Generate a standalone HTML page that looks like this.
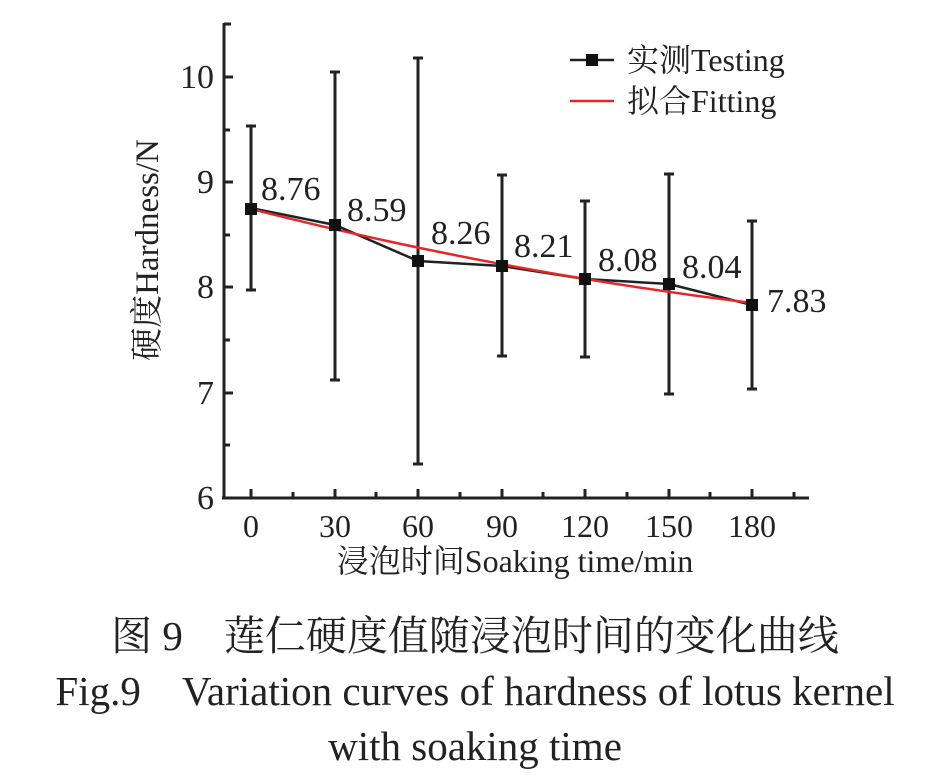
<!DOCTYPE html>
<html><head><meta charset="utf-8"><style>
body{margin:0;background:#fff;}
svg text{font-family:"Liberation Serif","Noto Serif CJK SC",serif;fill:#222;}
</style></head><body>
<svg width="934" height="775" viewBox="0 0 934 775" xmlns="http://www.w3.org/2000/svg">
<g stroke="#222" stroke-width="3" fill="none">
<line x1="224" y1="23" x2="224" y2="499"/>
<line x1="222" y1="498" x2="809" y2="498"/>
<line x1="224" y1="24" x2="231" y2="24"/>
<line x1="224" y1="77" x2="233" y2="77"/>
<line x1="224" y1="130" x2="230" y2="130"/>
<line x1="224" y1="182" x2="233" y2="182"/>
<line x1="224" y1="235" x2="230" y2="235"/>
<line x1="224" y1="287" x2="233" y2="287"/>
<line x1="224" y1="340" x2="230" y2="340"/>
<line x1="224" y1="393" x2="233" y2="393"/>
<line x1="224" y1="445" x2="230" y2="445"/>
<line x1="251" y1="498" x2="251" y2="489"/>
<line x1="293" y1="498" x2="293" y2="492"/>
<line x1="335" y1="498" x2="335" y2="489"/>
<line x1="376" y1="498" x2="376" y2="492"/>
<line x1="418" y1="498" x2="418" y2="489"/>
<line x1="460" y1="498" x2="460" y2="492"/>
<line x1="502" y1="498" x2="502" y2="489"/>
<line x1="543" y1="498" x2="543" y2="492"/>
<line x1="585" y1="498" x2="585" y2="489"/>
<line x1="627" y1="498" x2="627" y2="492"/>
<line x1="669" y1="498" x2="669" y2="489"/>
<line x1="710" y1="498" x2="710" y2="492"/>
<line x1="752" y1="498" x2="752" y2="489"/>
<line x1="794" y1="498" x2="794" y2="492"/>
<path d="M251 126V290M246 126H256M246 290H256"/>
<path d="M335 72V380M330 72H340M330 380H340"/>
<path d="M418 58V464M413 58H423M413 464H423"/>
<path d="M502 175V356M497 175H507M497 356H507"/>
<path d="M585 201V357M580 201H590M580 357H590"/>
<path d="M669 174V394M664 174H674M664 394H674"/>
<path d="M752 221V389M747 221H757M747 389H757"/>
</g>
<polyline points="251,208 335,225 418,261 502,266 585,279 669,284 752,305" stroke="#222" stroke-width="2.5" fill="none"/>
<path d="M251,209 Q500,272 752,303" stroke="#e8262a" stroke-width="2.5" fill="none"/>
<g fill="#111">
<rect x="245" y="203" width="12" height="12"/><rect x="329" y="219" width="12" height="12"/>
<rect x="412" y="255" width="12" height="12"/><rect x="496" y="260" width="12" height="12"/>
<rect x="579" y="273" width="12" height="12"/><rect x="663" y="278" width="12" height="12"/>
<rect x="746" y="299" width="12" height="12"/>
</g>
<g font-size="34">
<text x="261" y="200">8.76</text><text x="347" y="221">8.59</text>
<text x="431" y="244">8.26</text><text x="514" y="257">8.21</text>
<text x="598" y="271">8.08</text><text x="682" y="278">8.04</text>
<text x="767" y="312">7.83</text>
</g>
<g font-size="34" text-anchor="end">
<text x="214" y="88">10</text><text x="214" y="193">9</text><text x="214" y="298">8</text>
<text x="214" y="404">7</text><text x="214" y="509">6</text>
</g>
<g font-size="32" text-anchor="middle">
<text x="251" y="537">0</text><text x="335" y="537">30</text><text x="418" y="537">60</text>
<text x="502" y="537">90</text><text x="585" y="537">120</text><text x="669" y="537">150</text>
<text x="752" y="537">180</text>
<text x="515" y="572">浸泡时间Soaking time/min</text>
<text transform="translate(158,250) rotate(-90)" font-size="33">硬度Hardness/N</text>
</g>
<line x1="570" y1="60" x2="614" y2="60" stroke="#222" stroke-width="2.5"/>
<rect x="586" y="54" width="12" height="12" fill="#111"/>
<text x="627" y="71" font-size="32">实测Testing</text>
<line x1="570" y1="101" x2="614" y2="101" stroke="#e8262a" stroke-width="2.5"/>
<text x="627" y="112" font-size="32">拟合Fitting</text>
<g font-size="41" text-anchor="middle">
<text x="475" y="650">图 9　莲仁硬度值随浸泡时间的变化曲线</text>
<text x="475" y="705">Fig.9　Variation curves of hardness of lotus kernel</text>
<text x="475" y="760">with soaking time</text>
</g>
</svg>
</body></html>
